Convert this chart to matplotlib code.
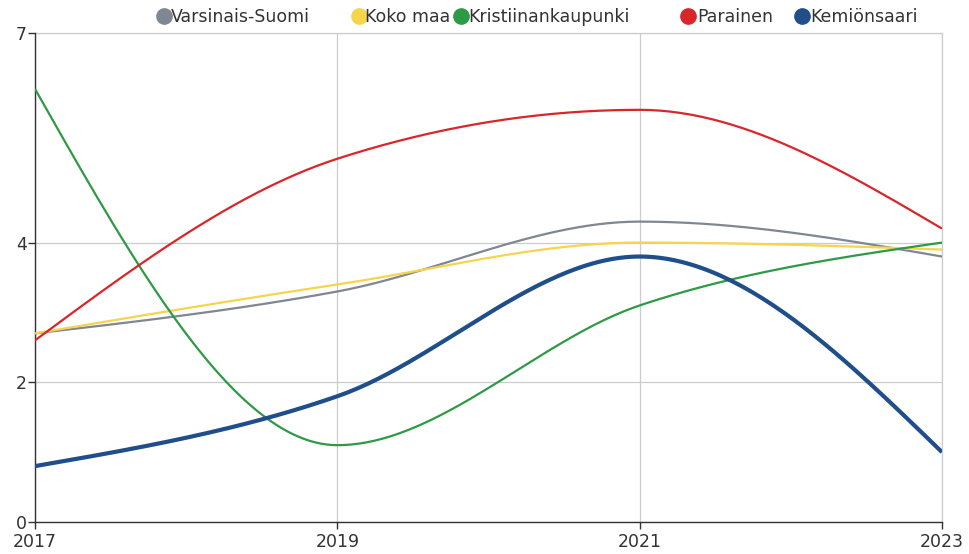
import matplotlib
matplotlib.use("Agg")
import matplotlib.pyplot as plt
import numpy as np

plt.rcParams["font.family"] = ["DejaVu Sans"]

years = [2017, 2019, 2021, 2023]
varsinais_suomi = [2.7, 3.3, 4.3, 3.8]
koko_maa = [2.7, 3.4, 4.0, 3.9]
kristiinankaupunki = [6.2, 1.1, 3.1, 4.0]
parainen = [2.6, 5.2, 5.9, 4.2]
kemionsaari = [0.8, 1.8, 3.8, 1.0]

series_names = ["Varsinais-Suomi", "Koko maa", "Kristiinankaupunki", "Parainen", "Kemiönsaari"]
series_values = [varsinais_suomi, koko_maa, kristiinankaupunki, parainen, kemionsaari]
colors = ["#7f8793", "#f6d44c", "#2e9a45", "#d8262b", "#1f4e8b"]
widths = [1.6, 1.6, 1.6, 1.6, 3.0]

y_ticks = [0, 2, 4, 7]
x_ticks = [2017, 2019, 2021, 2023]


def monotone_x(x, y, n=60):
    # same idea as d3.curveMonotoneX
    x = np.asarray(x, float)
    y = np.asarray(y, float)
    h = np.diff(x)
    s = np.diff(y) / h
    t = np.zeros(len(x))
    for i in range(1, len(x) - 1):
        p = (s[i - 1] * h[i] + s[i] * h[i - 1]) / (h[i - 1] + h[i])
        t[i] = (np.sign(s[i - 1]) + np.sign(s[i])) * min(abs(s[i - 1]), abs(s[i]), 0.5 * abs(p))
    t[0] = (3 * s[0] - t[1]) / 2
    t[-1] = (3 * s[-1] - t[-2]) / 2
    xs, ys = [], []
    for i in range(len(x) - 1):
        u = np.linspace(0, 1, n)
        h00 = 2 * u**3 - 3 * u**2 + 1
        h10 = u**3 - 2 * u**2 + u
        h01 = -2 * u**3 + 3 * u**2
        h11 = u**3 - u**2
        xs.extend(x[i] + u * h[i])
        ys.extend(h00 * y[i] + h10 * h[i] * t[i] + h01 * y[i + 1] + h11 * h[i] * t[i + 1])
    return np.array(xs), np.array(ys)


fig = plt.figure(figsize=(9.69, 5.54), dpi=100)
ax = fig.add_axes([35 / 969, 1 - 522 / 554, (942 - 35) / 969, (522 - 33) / 554])

for vals, c, lw in zip(series_values, colors, widths):
    xs, ys = monotone_x(years, vals)
    ax.plot(xs, ys, color=c, linewidth=lw, solid_capstyle="butt", zorder=3)

ax.set_xlim(2017, 2023)
ax.set_ylim(0, 7)
ax.set_xticks(x_ticks)
ax.set_xticklabels([str(v) for v in x_ticks])
ax.set_yticks(y_ticks)
ax.grid(True, color="#cccccc", linewidth=0.9, zorder=0)
ax.axvline(2023, color="#cccccc", linewidth=0.9, zorder=0, clip_on=False)
ax.axhline(7, color="#cccccc", linewidth=0.9, zorder=0, clip_on=False)
for side in ["top", "right"]:
    ax.spines[side].set_visible(False)
for side in ["left", "bottom"]:
    ax.spines[side].set_color("#333333")
    ax.spines[side].set_linewidth(1.0)
ax.tick_params(length=5, width=1, color="#333333", labelsize=12.5, labelcolor="#333333")
ax.tick_params(axis="y", pad=1)
ax.tick_params(axis="x", pad=3)
ax.set_axisbelow(True)

# legend across the top
circle_x = [164, 359, 461, 688, 802]
text_x = [171, 365, 468, 697, 810]
for name, c, cx, tx in zip(series_names, colors, circle_x, text_x):
    fig.lines.append(plt.Line2D([cx / 969], [1 - 16 / 554], marker="o", markersize=11,
                                color=c, transform=fig.transFigure, linestyle="none"))
    fig.text(tx / 969, 1 - 17 / 554, name, fontsize=12.5, color="#333333",
             va="center", ha="left")

fig.savefig("out.png", dpi=100)
